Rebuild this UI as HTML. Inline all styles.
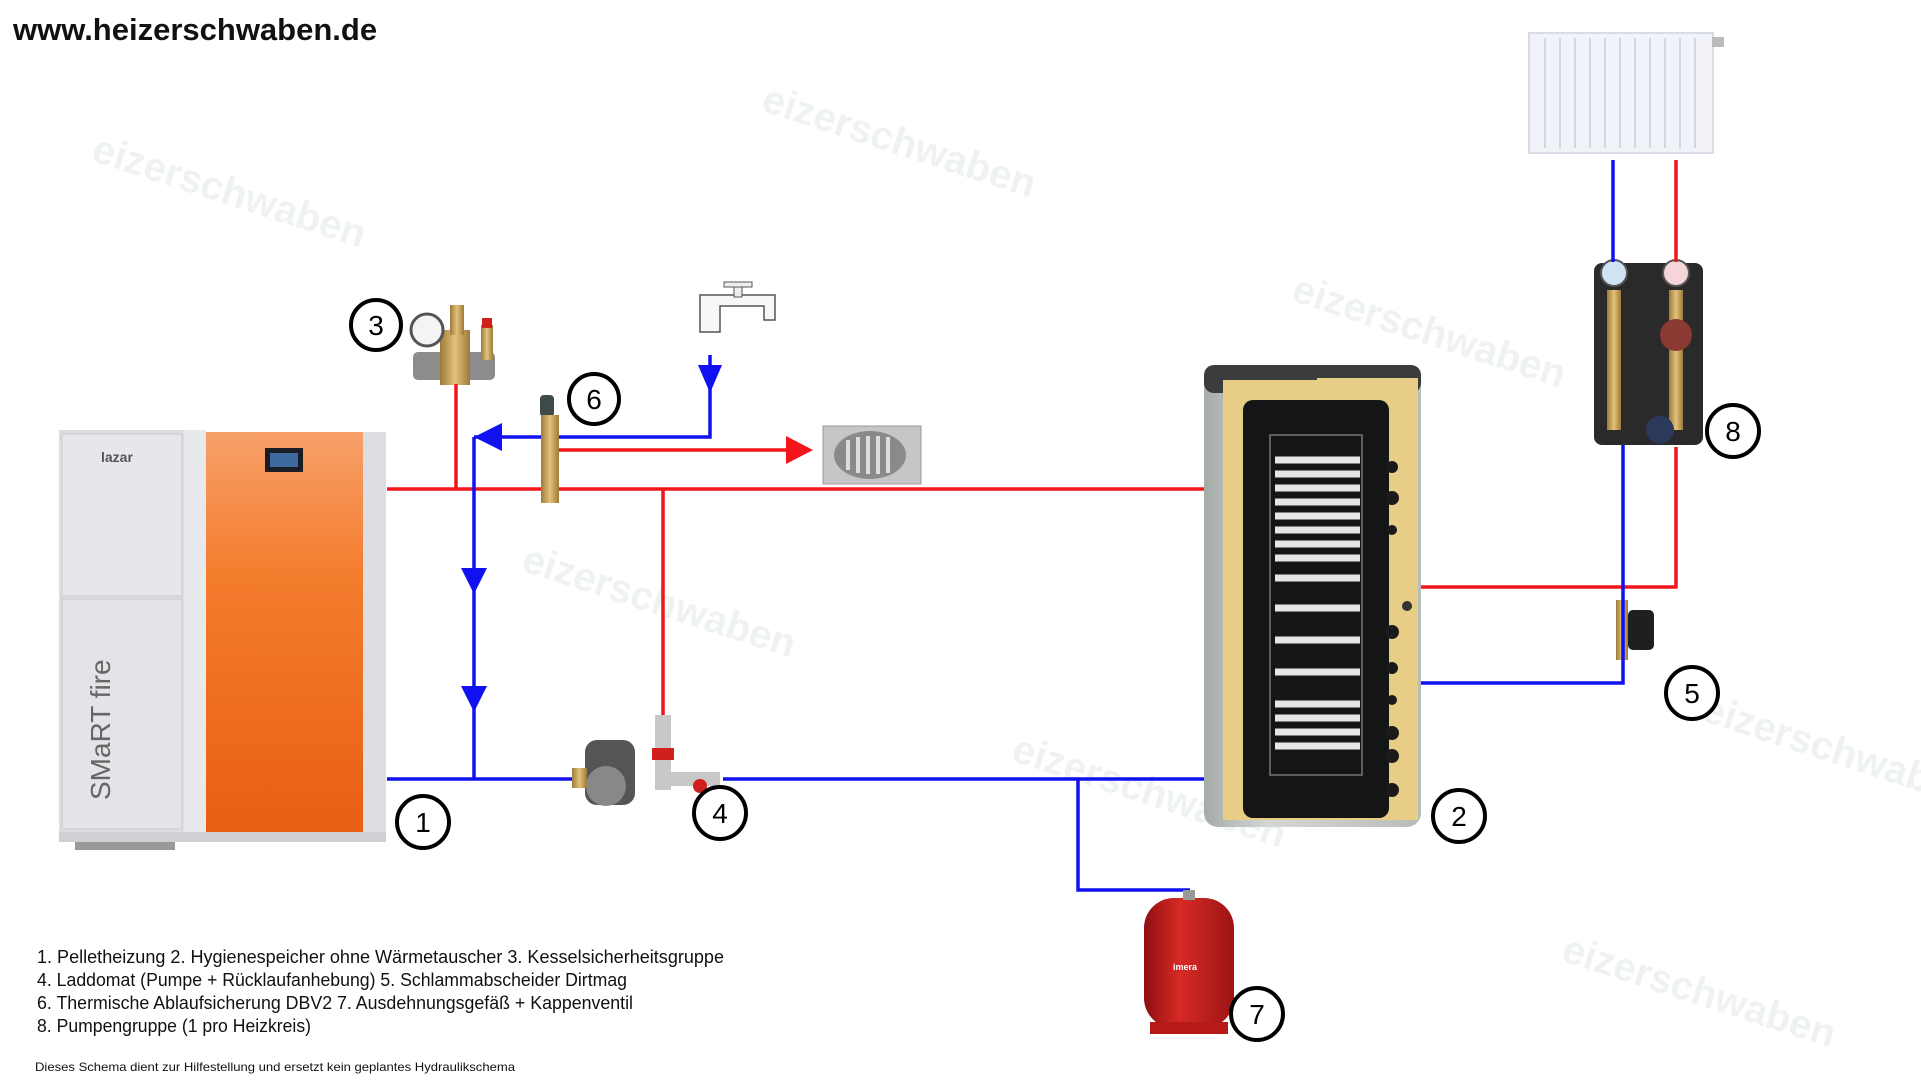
<!DOCTYPE html>
<html><head><meta charset="utf-8"><style>
html,body{margin:0;padding:0;background:#fff;}
svg{display:block;}
text{font-family:"Liberation Sans",sans-serif;}
.n{font-family:"Liberation Sans Narrow","Liberation Sans",sans-serif;}
</style></head><body>
<svg width="1921" height="1089" viewBox="0 0 1921 1089" xmlns="http://www.w3.org/2000/svg">
<defs>
<linearGradient id="org" x1="0" y1="0" x2="0" y2="1"><stop offset="0" stop-color="#f7a06a"/><stop offset="0.35" stop-color="#f47d2e"/><stop offset="1" stop-color="#e85e14"/></linearGradient>
<linearGradient id="tank" x1="0" y1="0" x2="1" y2="0"><stop offset="0" stop-color="#a5aca8"/><stop offset="0.3" stop-color="#d3d8d5"/><stop offset="1" stop-color="#b8bdb9"/></linearGradient>
<linearGradient id="vess" x1="0" y1="0" x2="1" y2="0"><stop offset="0" stop-color="#8e0f10"/><stop offset="0.4" stop-color="#d72a24"/><stop offset="1" stop-color="#9c1414"/></linearGradient>
<linearGradient id="brass" x1="0" y1="0" x2="1" y2="0"><stop offset="0" stop-color="#9c7a3a"/><stop offset="0.5" stop-color="#e3c27a"/><stop offset="1" stop-color="#9c7a3a"/></linearGradient>
</defs>

<!-- faint watermarks -->
<g fill="#e4ece4" font-weight="bold" font-size="40" opacity="0.6">
<text x="90" y="160" transform="rotate(18 90 160)">eizerschwaben</text>
<text x="760" y="110" transform="rotate(18 760 110)">eizerschwaben</text>
<text x="1290" y="300" transform="rotate(18 1290 300)">eizerschwaben</text>
<text x="520" y="570" transform="rotate(18 520 570)">eizerschwaben</text>
<text x="1010" y="760" transform="rotate(18 1010 760)">eizerschwaben</text>
<text x="1560" y="960" transform="rotate(18 1560 960)">eizerschwaben</text>
<text x="1700" y="720" transform="rotate(18 1700 720)">eizerschwaben</text>
</g>

<text x="13" y="40" font-size="31" font-weight="bold" fill="#111">www.heizerschwaben.de</text>

<!-- boiler -->
<rect x="59" y="430" width="146" height="402" fill="#dcdde0"/>
<rect x="62" y="434" width="120" height="162" fill="#e6e7ea" stroke="#c9cacd"/>
<rect x="62" y="599" width="120" height="230" fill="#e3e4e7" stroke="#c9cacd"/>
<rect x="184" y="430" width="22" height="402" fill="#e8e9ec"/>
<rect x="206" y="432" width="157" height="400" fill="url(#org)"/>
<rect x="363" y="432" width="23" height="400" fill="#dddee1"/>
<rect x="265" y="448" width="38" height="24" fill="#1b1f25"/>
<rect x="270" y="453" width="28" height="14" fill="#3f6aa0"/>
<text x="101" y="462" font-size="14" font-weight="bold" fill="#555">lazar</text>
<text x="110" y="800" font-size="28" fill="#666" transform="rotate(-90 110 800)">SMaRT fire</text>
<rect x="59" y="832" width="327" height="10" fill="#cfd0d3"/>
<rect x="75" y="842" width="100" height="8" fill="#999"/>

<!-- tank -->
<rect x="1204" y="365" width="217" height="462" rx="14" fill="url(#tank)"/>
<rect x="1204" y="365" width="217" height="28" rx="10" fill="#3b3d3d"/>
<path d="M1207 378 H1418 V820 H1390 V395 H1317 V378Z" fill="#e7cd86"/>
<rect x="1223" y="380" width="172" height="440" fill="#e7cd86"/>
<rect x="1243" y="400" width="146" height="418" rx="10" fill="#141616"/>
<rect x="1270" y="435" width="92" height="340" fill="none" stroke="#777" stroke-width="1.5"/>
<g stroke="#e6e6e6" stroke-width="7" fill="none">
<path d="M1275 460 H1360 M1275 474 H1360 M1275 488 H1360 M1275 502 H1360 M1275 516 H1360 M1275 530 H1360 M1275 544 H1360 M1275 558 H1360 M1275 578 H1360 M1275 608 H1360 M1275 640 H1360 M1275 672 H1360 M1275 704 H1360 M1275 718 H1360 M1275 732 H1360 M1275 746 H1360"/>
</g>
<g fill="#1a1a1a"><circle cx="1392" cy="467" r="6"/><circle cx="1392" cy="498" r="7"/><circle cx="1392" cy="530" r="5"/><circle cx="1392" cy="632" r="7"/><circle cx="1392" cy="668" r="6"/><circle cx="1392" cy="700" r="5"/><circle cx="1392" cy="733" r="7"/><circle cx="1392" cy="756" r="7"/><circle cx="1392" cy="790" r="7"/></g>
<circle cx="1407" cy="606" r="5" fill="#333"/>

<!-- radiator -->
<rect x="1529" y="33" width="184" height="120" fill="#f1f3f8" stroke="#d8dce6" stroke-width="2"/>
<g stroke="#d3d7e2" stroke-width="2"><path d="M1545 38V148M1560 38V148M1575 38V148M1590 38V148M1605 38V148M1620 38V148M1635 38V148M1650 38V148M1665 38V148M1680 38V148M1695 38V148"/></g>
<rect x="1712" y="37" width="12" height="10" fill="#bbb"/>

<!-- pump group 8 -->
<rect x="1594" y="263" width="109" height="182" rx="8" fill="#2a2a2a"/>
<circle cx="1614" cy="273" r="13" fill="#cfe3f5" stroke="#555" stroke-width="2"/>
<circle cx="1676" cy="273" r="13" fill="#f5d5da" stroke="#555" stroke-width="2"/>
<rect x="1607" y="290" width="14" height="140" fill="url(#brass)"/>
<rect x="1669" y="290" width="14" height="140" fill="url(#brass)"/>
<circle cx="1676" cy="335" r="16" fill="#8a3a32"/>
<circle cx="1660" cy="430" r="14" fill="#2b3a5a"/>

<!-- dirtmag 5 -->
<rect x="1616" y="600" width="12" height="60" fill="url(#brass)"/>
<rect x="1628" y="610" width="26" height="40" rx="5" fill="#1f1f1f"/>

<!-- safety group 3 -->
<rect x="413" y="352" width="82" height="28" rx="5" fill="#8c8c8c"/>
<rect x="440" y="330" width="30" height="55" fill="url(#brass)"/>
<rect x="450" y="305" width="14" height="30" fill="url(#brass)"/>
<circle cx="427" cy="330" r="16" fill="#f4f4f4" stroke="#555" stroke-width="3"/>
<rect x="481" y="325" width="12" height="35" fill="url(#brass)"/>
<rect x="482" y="318" width="10" height="10" fill="#d0201c"/>

<!-- faucet -->
<path d="M700 295 H775 V320 H764 V306 H720 V332 H700Z" fill="#f7f7f7" stroke="#555" stroke-width="1.5"/>
<rect x="734" y="285" width="8" height="12" fill="#eee" stroke="#555"/>
<rect x="724" y="282" width="28" height="5" fill="#eee" stroke="#555"/>

<!-- drain -->
<rect x="823" y="426" width="98" height="58" fill="#c6c6c6" stroke="#999"/>
<ellipse cx="870" cy="455" rx="36" ry="24" fill="#8a8a8a"/>
<g stroke="#ddd" stroke-width="4"><path d="M848 440V470M858 437V473M868 436V474M878 436V474M888 437V473"/></g>

<!-- pipes -->
<g stroke-width="3.5" fill="none">
<path d="M387 489 H1204" stroke="#f2161a"/>
<path d="M456 384 V489" stroke="#f2161a"/>
<path d="M663 489 V717" stroke="#f2161a"/>
<path d="M551 450 H795" stroke="#f2161a"/>
<path d="M387 779 H576 M723 779 H1204" stroke="#1010f0"/>
<path d="M474 437 V779" stroke="#1010f0"/>
<path d="M474 437 H710 V355" stroke="#1010f0"/>
<path d="M1078 779 V890 H1190" stroke="#1010f0"/>
<path d="M1421 587 H1676 V447" stroke="#f2161a"/>
<path d="M1421 683 H1623 V445" stroke="#1010f0"/>
<path d="M1613 160 V262" stroke="#1010f0"/>
<path d="M1676 160 V262" stroke="#f2161a"/>
</g>
<g fill="#1010f0">
<path d="M474 437 l28 -14 v28z" transform="translate(0,0)"/>
<path d="M461 568 h26 l-13 26z"/>
<path d="M461 686 h26 l-13 26z"/>
<path d="M698 365 h24 l-12 28z"/>
</g>
<path d="M786 436 l27 14 l-27 14z" fill="#f2161a"/>

<!-- valve 6 -->
<rect x="540" y="395" width="14" height="22" rx="4" fill="#3e4a4a"/>
<rect x="541" y="415" width="18" height="88" fill="url(#brass)"/>

<!-- laddomat 4 -->
<rect x="585" y="740" width="50" height="65" rx="12" fill="#555"/>
<circle cx="606" cy="786" r="20" fill="#888"/>
<rect x="572" y="768" width="15" height="20" fill="url(#brass)"/>
<rect x="655" y="715" width="16" height="75" fill="#c8c8c8"/>
<rect x="652" y="748" width="22" height="12" fill="#d0201c"/>
<rect x="670" y="772" width="50" height="14" fill="#c8c8c8"/>
<circle cx="700" cy="786" r="7" fill="#d0201c"/>

<!-- expansion vessel 7 -->
<rect x="1144" y="898" width="90" height="130" rx="30" fill="url(#vess)"/>
<rect x="1150" y="1022" width="78" height="12" fill="#b51a18"/>
<rect x="1183" y="890" width="12" height="10" fill="#999"/>
<text x="1173" y="970" font-size="9" font-weight="bold" fill="#fff">imera</text>

<!-- number circles -->
<g fill="#fff" stroke="#000" stroke-width="4">
<circle cx="376" cy="325" r="25"/><circle cx="594" cy="399" r="25"/><circle cx="423" cy="822" r="26"/>
<circle cx="720" cy="813" r="26"/><circle cx="1459" cy="816" r="26"/><circle cx="1692" cy="693" r="26"/>
<circle cx="1733" cy="431" r="26"/><circle cx="1257" cy="1014" r="26"/>
</g>
<g font-size="28" text-anchor="middle" fill="#000" class="n">
<text class="n" x="376" y="335">3</text><text class="n" x="594" y="409">6</text><text class="n" x="423" y="832">1</text>
<text class="n" x="720" y="823">4</text><text class="n" x="1459" y="826">2</text><text class="n" x="1692" y="703">5</text>
<text class="n" x="1733" y="441">8</text><text class="n" x="1257" y="1024">7</text>
</g>

<!-- legend -->
<g font-size="18" fill="#111">
<text class="n" x="37" y="963" textLength="687" lengthAdjust="spacingAndGlyphs">1. Pelletheizung   2. Hygienespeicher ohne  Wärmetauscher   3. Kesselsicherheitsgruppe</text>
<text class="n" x="37" y="986" textLength="590" lengthAdjust="spacingAndGlyphs">4. Laddomat (Pumpe + Rücklaufanhebung) 5. Schlammabscheider Dirtmag</text>
<text class="n" x="37" y="1009" textLength="596" lengthAdjust="spacingAndGlyphs">6. Thermische Ablaufsicherung DBV2  7. Ausdehnungsgefäß + Kappenventil</text>
<text class="n" x="37" y="1032" textLength="274" lengthAdjust="spacingAndGlyphs">8. Pumpengruppe (1 pro Heizkreis)</text>
</g>
<text class="n" x="35" y="1071" font-size="12" fill="#111" textLength="480" lengthAdjust="spacingAndGlyphs">Dieses Schema dient zur Hilfestellung und ersetzt kein geplantes Hydraulikschema</text>
</svg>
</body></html>
